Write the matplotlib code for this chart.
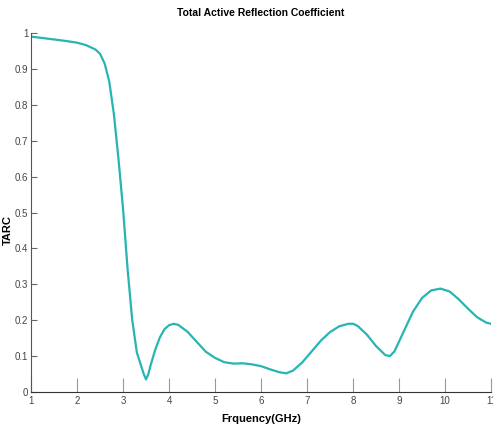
import matplotlib
matplotlib.use('Agg')
import matplotlib.pyplot as plt

# Frequency (GHz) and TARC
freq = [1.0, 1.25, 1.5, 1.75, 2.0, 2.2, 2.4, 2.5, 2.6, 2.7, 2.8, 2.9, 3.0, 3.1,
        3.2, 3.3, 3.4, 3.45, 3.5, 3.55, 3.6, 3.7, 3.8, 3.9, 4.0, 4.1, 4.2, 4.4,
        4.6, 4.8, 5.0, 5.2, 5.4, 5.6, 5.8, 6.0, 6.2, 6.4, 6.55, 6.7, 6.9, 7.1,
        7.3, 7.5, 7.7, 7.9, 8.0, 8.1, 8.3, 8.5, 8.7, 8.8, 8.9, 9.1, 9.3, 9.5,
        9.7, 9.9, 10.1, 10.3, 10.5, 10.7, 10.9, 11.0]
tarc = [0.99, 0.986, 0.982, 0.978, 0.973, 0.966, 0.954, 0.942, 0.915, 0.865,
        0.775, 0.65, 0.51, 0.34, 0.2, 0.11, 0.07, 0.05, 0.035, 0.05, 0.075,
        0.118, 0.152, 0.175, 0.186, 0.19, 0.187, 0.168, 0.14, 0.112, 0.095,
        0.083, 0.079, 0.08, 0.077, 0.072, 0.063, 0.055, 0.052, 0.06, 0.083,
        0.113, 0.143, 0.167, 0.183, 0.19, 0.19, 0.184, 0.16, 0.128, 0.103,
        0.1, 0.113, 0.168, 0.223, 0.262, 0.283, 0.288, 0.28, 0.258, 0.232,
        0.208, 0.193, 0.19]

xticks = list(range(1, 12))
yticks = [0, 0.1, 0.2, 0.3, 0.4, 0.5, 0.6, 0.7, 0.8, 0.9, 1]
ylabels = ['0', '0.1', '0.2', '0.3', '0.4', '0.5', '0.6', '0.7', '0.8', '0.9', '1']

plt.rcParams['font.family'] = ['Liberation Sans', 'DejaVu Sans']

fig = plt.figure(figsize=(4.93, 4.32), dpi=100)
ax = fig.add_axes([0.063, 0.0926, 0.933, 0.831])
ax.plot(freq, tarc, color='#26b5b3', linewidth=1.6)

ax.set_xlim(1, 11)
ax.set_ylim(0, 1)
ax.set_xticks(xticks)
ax.set_yticks(yticks)
ax.set_yticklabels(ylabels)
ax.spines['top'].set_visible(False)
ax.spines['right'].set_visible(False)
ax.spines['left'].set_color('#555555')
ax.spines['bottom'].set_color('#333333')
ax.tick_params(axis='x', direction='in', length=10, color='#999999',
               labelsize=7, labelcolor='#444444', pad=3)
ax.tick_params(axis='y', direction='in', length=4, color='#666666',
               labelsize=7, labelcolor='#444444', pad=2)

ax.set_title('Total Active Reflection Coefficient', fontsize=7.5,
             fontweight='bold', pad=12)
ax.set_xlabel('Frquency(GHz)', fontsize=8, fontweight='bold', labelpad=6)
ax.set_ylabel('TARC', fontsize=8, fontweight='bold')
ax.yaxis.set_label_coords(-0.04, 0.45)

fig.savefig('out.png', dpi=100)
